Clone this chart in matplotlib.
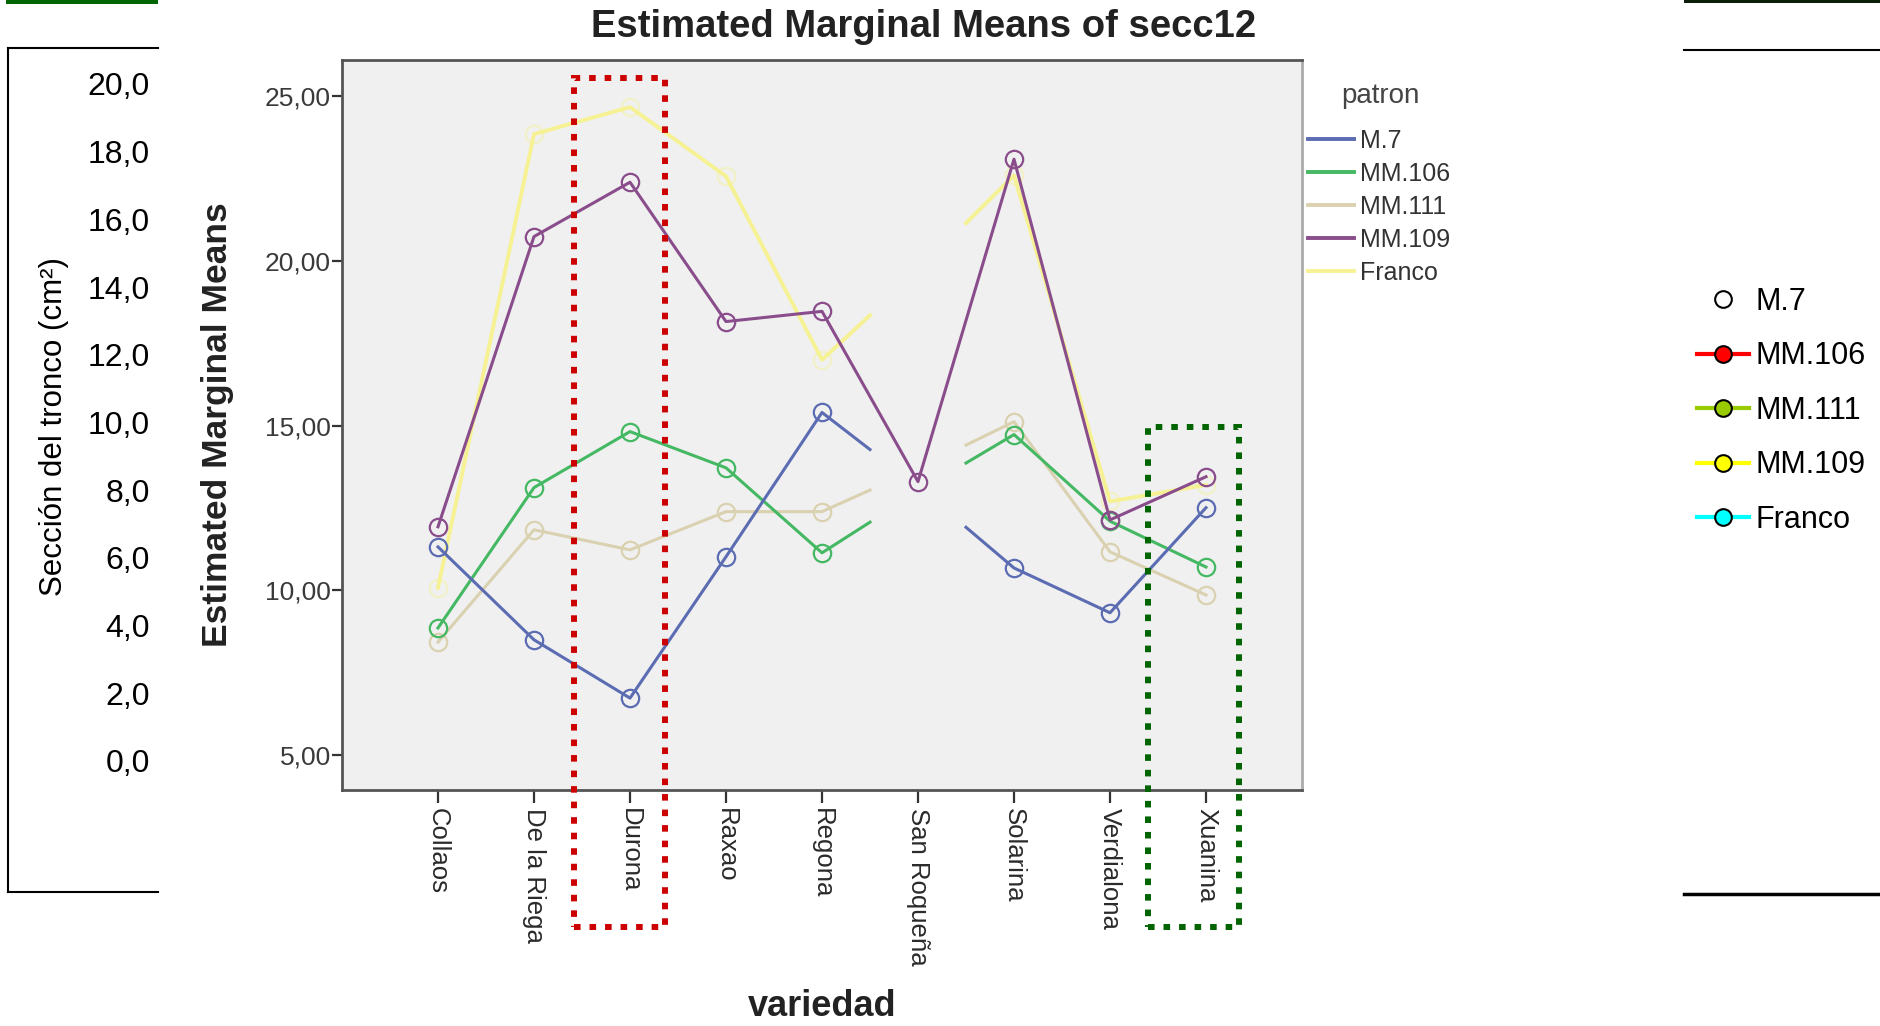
import matplotlib
matplotlib.use("Agg")
import matplotlib.pyplot as plt
import matplotlib.transforms as mtransforms
from matplotlib.lines import Line2D
from matplotlib.patches import Rectangle
import numpy as np

plt.rcParams['font.family'] = ['Liberation Sans', 'DejaVu Sans']

W, H = 1881, 1026

variedades = ['Collaos', 'De la Riega', 'Durona', 'Raxao', 'Regona',
              'San Roqueña', 'Solarina', 'Verdialona', 'Xuanina']
patrones = ['M.7', 'MM.106', 'MM.111', 'MM.109', 'Franco']

# medias marginales estimadas de secc12 por patron
m7 = [11.32, 8.50, 6.73, 11.02, 15.40, 13.15, 10.68, 9.32, 12.51]
mm106 = [8.86, 13.12, 14.82, 13.72, 11.14, 13.00, 14.73, 12.10, 10.71]
mm111 = [8.43, 11.84, 11.23, 12.39, 12.39, 13.70, 15.12, 11.17, 9.86]
mm109 = [11.93, 20.74, 22.39, 18.16, 18.47, 13.30, 23.09, 12.14, 13.45]
franco = [10.08, 23.85, 24.67, 22.57, 17.00, 19.70, 22.60, 12.70, 13.20]

colores = {'M.7': '#5b6cb2', 'MM.106': '#45b863', 'MM.111': '#dad1b0',
           'MM.109': '#8a4d8c', 'Franco': '#f6f294'}

tronco_ticks = [0, 2, 4, 6, 8, 10, 12, 14, 16, 18, 20]
ejes_ticks = [5, 10, 15, 20, 25]

# leyenda del otro grafico (tapado)
leyenda2_colores = ['none', '#ff0000', '#99cc00', '#ffff00', '#00ffff']
leyenda2_relleno = ['white', '#ff0000', '#99cc00', '#ffff00', '#00ffff']


def fx(px):
    return px / W


def fy(py):
    return 1 - py / H


fig = plt.figure(figsize=(W / 100, H / 100), dpi=100)

# caja de la izquierda: escala de seccion del tronco
axl = fig.add_axes([fx(8), fy(892), fx(158) - fx(8), fy(48) - fy(892)])
axl.patch.set_alpha(0)
axl.set_xlim(0, 1)
axl.set_ylim(-3.87, 21.06)
axl.set_xticks([])
axl.set_yticks(tronco_ticks)
axl.set_yticklabels([f'{v:.1f}'.replace('.', ',') for v in tronco_ticks], fontsize=23)
axl.tick_params(axis='y', length=0, pad=-102)
axl.spines['right'].set_visible(False)
for s in ['left', 'top', 'bottom']:
    axl.spines[s].set_linewidth(1.5)
axl.set_ylabel('Sección del tronco (cm²)', fontsize=22.5)
axl.yaxis.set_label_coords(0.41, 0.552)

# grafico SPSS
ax = fig.add_axes([fx(342), fy(790), (1302 - 342) / W, (790 - 60) / H])
ax.set_facecolor('#f0f0f0')
x = np.arange(len(variedades))
gap = variedades.index('San Roqueña')

series = {'M.7': m7, 'MM.106': mm106, 'MM.111': mm111, 'MM.109': mm109, 'Franco': franco}
orden = ['Franco', 'MM.111', 'MM.106', 'M.7', 'MM.109']
for i, nombre in enumerate(orden):
    vals = np.array(series[nombre])
    c = colores[nombre]
    if nombre == 'MM.109':
        ax.plot(x, vals, color=c, lw=2.2, marker='o', ms=12.5, mfc='none', mec=c, mew=1.6, zorder=5)
        continue
    # en San Roqueña solo quedan los tramos hasta la mitad
    xs = np.concatenate([x[:gap], [gap - 0.5, np.nan, gap + 0.5], x[gap + 1:]]).astype(float)
    ys = np.interp(np.nan_to_num(xs), x, vals)
    ys[np.isnan(xs)] = np.nan
    lw = 2.8 if nombre == 'Franco' else 2.2
    ax.plot(xs, ys, color=c, lw=lw, zorder=2 + i)
    keep = x != gap
    alpha = 0.45 if nombre == 'Franco' else 1
    ax.plot(x[keep], vals[keep], 'o', ms=12.5, mfc='none', mec=c, mew=1.6, alpha=alpha, zorder=2 + i)

ax.set_xlim(-1, 9)
ax.set_ylim(3.94, 26.1)
ax.set_yticks(ejes_ticks)
ax.set_yticklabels([f'{v:.2f}'.replace('.', ',') for v in ejes_ticks], fontsize=19, color='#3a3a3a')
ax.set_xticks(x)
ax.set_xticklabels(variedades, rotation=-90, fontsize=18.5, color='#2a2a2a', va='top', ha='center')
ax.tick_params(axis='y', length=7, width=1.6, color='#333333', pad=1)
ax.tick_params(axis='x', length=9, width=1.6, color='#333333', pad=4)
for s in ax.spines.values():
    s.set_color('#555555')
    s.set_linewidth(2)
ax.spines['right'].set_color('#aaaaaa')

ax.set_ylabel('Estimated Marginal Means', fontsize=25.5, fontweight='bold', color='#222222')
ax.yaxis.set_label_coords(-0.112, 0.5)
ax.set_xlabel('variedad', fontsize=26, fontweight='bold', color='#222222')
ax.xaxis.set_label_coords(0.5, -0.272)

fig.text(fx(924), fy(27), 'Estimated Marginal Means of secc12', ha='center', va='center',
         fontsize=27.5, fontweight='bold', color='#222222')

# leyenda de patrones, con el titulo aparte
handles = [Line2D([], [], color=colores[p], lw=2.8) for p in patrones]
leg = ax.legend(handles, patrones, loc='upper left',
                bbox_to_anchor=(fx(1308), fy(129)), bbox_transform=fig.transFigure,
                frameon=False, fontsize=18, handlelength=1.84,
                handletextpad=0.24, labelspacing=0.36, borderaxespad=0, borderpad=0)
for t in leg.get_texts():
    t.set_color('#333333')
fig.text(fx(1380), fy(96), 'patron', ha='center', va='center', fontsize=20, color='#444444')

# recuadros punteados sobre Durona y Xuanina
blend = mtransforms.blended_transform_factory(ax.transData, fig.transFigure)
i_dur = variedades.index('Durona')
i_xua = variedades.index('Xuanina')
ax.add_patch(Rectangle((i_dur - 0.58, fy(927)), 0.94, fy(78) - fy(927), transform=blend,
                       fill=False, ec='#cc0000', lw=4.3, ls=(0, (1.1, 1.5)), clip_on=False, zorder=10))
ax.add_patch(Rectangle((i_xua - 0.6, fy(927)), 0.94, fy(427) - fy(927), transform=blend,
                       fill=False, ec='#006400', lw=4.3, ls=(0, (1.1, 1.5)), clip_on=False, zorder=10))

# leyenda de la derecha
hand2 = [Line2D([], [], color=leyenda2_colores[k], lw=3, marker='o', ms=12,
                mfc=leyenda2_relleno[k], mec='black', mew=1.5) for k in range(len(patrones))]
fig.legend(hand2, patrones, loc='upper left', bbox_to_anchor=(fx(1697), fy(287)),
           frameon=False, fontsize=22, handlelength=1.7, handletextpad=0.22,
           labelspacing=0.8, borderaxespad=0, borderpad=0)

# barras y lineas de los bordes
fig.add_artist(Rectangle((fx(6), fy(4)), fx(158) - fx(6), fy(0) - fy(4),
                         transform=fig.transFigure, color='#006400', lw=0))
fig.add_artist(Rectangle((fx(1684), fy(3)), 1 - fx(1684), fy(0) - fy(3),
                         transform=fig.transFigure, color='#0b1f0b', lw=0))
fig.add_artist(Line2D([fx(1684), 1], [fy(50), fy(50)], color='black', lw=1.5))
fig.add_artist(Line2D([fx(1684), 1], [fy(894), fy(894)], color='black', lw=2.5))

fig.savefig('out.png', dpi=100)
